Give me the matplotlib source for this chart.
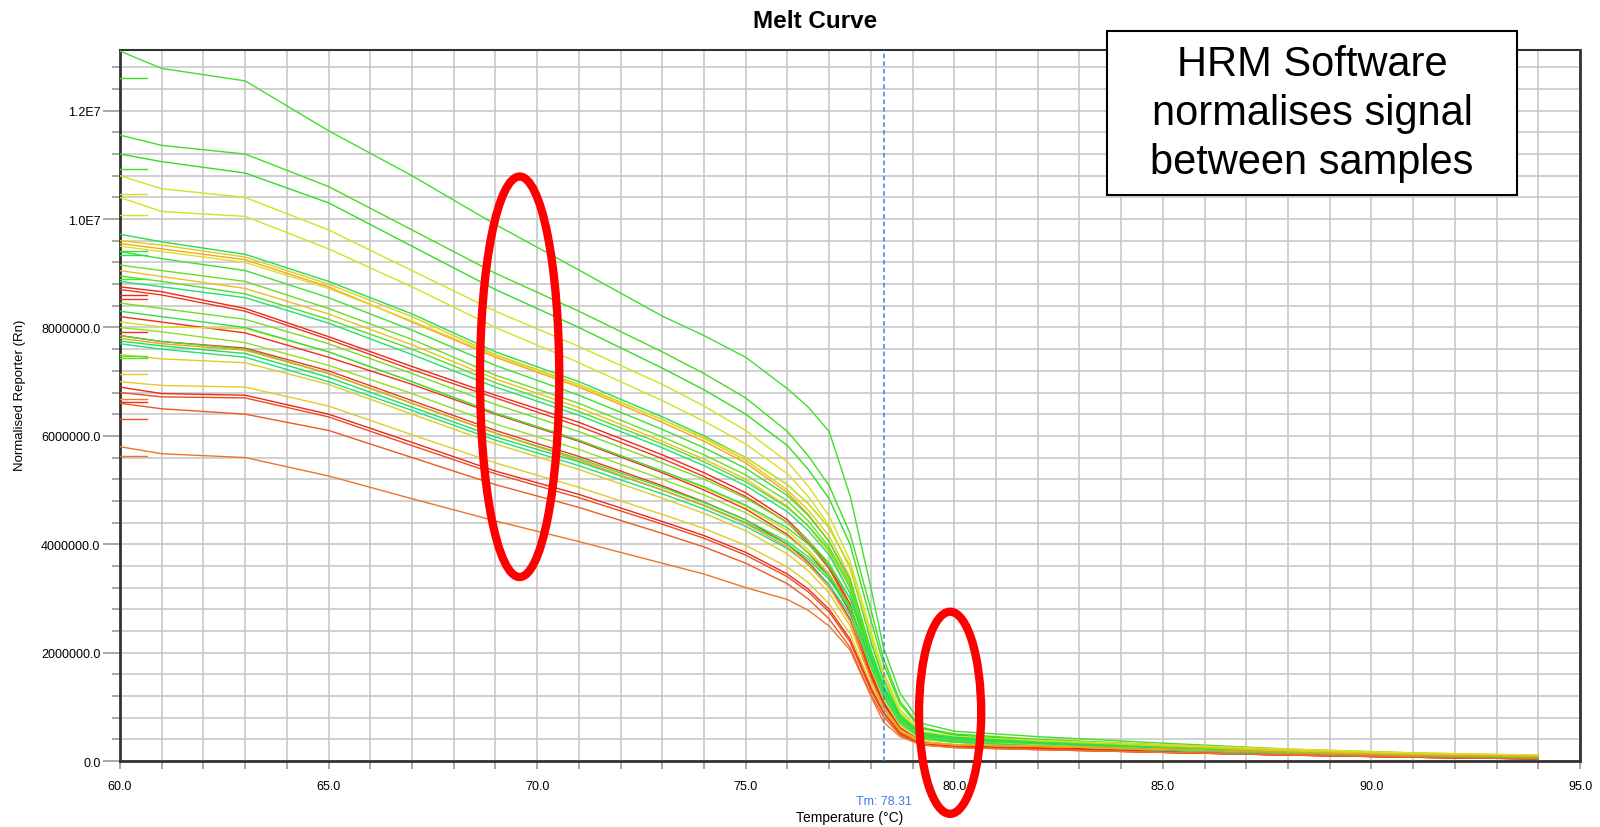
"""Melt curve (HRM) recreation: normalised reporter vs temperature."""
import matplotlib
matplotlib.use("Agg")
import matplotlib.pyplot as plt
from matplotlib.patches import Ellipse, Rectangle
from matplotlib.ticker import MultipleLocator, FuncFormatter

plt.rcParams["font.family"] = ["Liberation Sans", "DejaVu Sans"]

# temperatures (deg C) at which each curve was read
temps = [60, 61, 63, 65, 67, 69, 71, 73, 74, 75, 76, 76.5, 77, 77.5, 78, 78.3, 78.7, 79.2, 80, 82, 85, 88, 91, 94]

# normalised reporter, millions
curve_01 = [13.10, 12.78, 12.55, 11.63, 10.80, 9.90, 9.06, 8.21, 7.85, 7.45, 6.87, 6.53, 6.08, 4.90, 3.20, 2.10, 1.25, 0.70, 0.55, 0.45, 0.33, 0.22, 0.15, 0.10]
curve_02 = [11.55, 11.36, 11.20, 10.60, 9.80, 9.00, 8.30, 7.55, 7.15, 6.70, 6.08, 5.63, 5.08, 4.20, 2.80, 1.90, 1.10, 0.62, 0.50, 0.40, 0.30, 0.20, 0.13, 0.08]
curve_03 = [11.20, 11.06, 10.85, 10.30, 9.50, 8.70, 8.00, 7.25, 6.85, 6.40, 5.82, 5.38, 4.84, 4.00, 2.60, 1.80, 1.05, 0.60, 0.48, 0.38, 0.28, 0.18, 0.12, 0.07]
curve_04 = [10.80, 10.56, 10.40, 9.80, 9.05, 8.30, 7.65, 6.95, 6.55, 6.10, 5.52, 5.07, 4.52, 3.70, 2.40, 1.65, 0.95, 0.55, 0.45, 0.36, 0.27, 0.20, 0.14, 0.10]
curve_05 = [10.40, 10.14, 10.05, 9.45, 8.75, 8.00, 7.35, 6.65, 6.27, 5.85, 5.30, 4.88, 4.35, 3.55, 2.30, 1.55, 0.90, 0.52, 0.42, 0.34, 0.25, 0.18, 0.12, 0.09]
curve_06 = [9.72, 9.58, 9.35, 8.85, 8.25, 7.55, 7.00, 6.35, 6.00, 5.60, 5.10, 4.75, 4.30, 3.60, 2.20, 1.50, 0.85, 0.50, 0.42, 0.33, 0.24, 0.16, 0.10, 0.06]
curve_07 = [9.60, 9.52, 9.30, 8.80, 8.20, 7.50, 6.95, 6.30, 5.95, 5.55, 5.00, 4.63, 4.15, 3.40, 2.00, 1.40, 0.80, 0.48, 0.40, 0.35, 0.28, 0.20, 0.13, 0.10]
curve_08 = [9.55, 9.45, 9.25, 8.75, 8.10, 7.45, 6.90, 6.25, 5.90, 5.50, 4.95, 4.55, 4.05, 3.30, 1.90, 1.30, 0.75, 0.45, 0.38, 0.32, 0.25, 0.18, 0.12, 0.08]
curve_09 = [9.40, 9.27, 9.05, 8.55, 7.95, 7.30, 6.75, 6.12, 5.78, 5.40, 4.90, 4.53, 4.05, 3.35, 2.05, 1.40, 0.80, 0.48, 0.40, 0.32, 0.23, 0.15, 0.10, 0.06]
curve_10 = [9.15, 9.05, 8.85, 8.35, 7.78, 7.12, 6.60, 5.98, 5.65, 5.28, 4.80, 4.43, 3.95, 3.25, 2.00, 1.35, 0.78, 0.46, 0.38, 0.30, 0.22, 0.14, 0.09, 0.05]
curve_11 = [9.05, 8.94, 8.72, 8.25, 7.68, 7.05, 6.52, 5.90, 5.57, 5.20, 4.70, 4.33, 3.85, 3.10, 1.85, 1.25, 0.72, 0.43, 0.36, 0.31, 0.25, 0.18, 0.12, 0.09]
curve_12 = [8.95, 8.85, 8.62, 8.15, 7.60, 6.98, 6.45, 5.85, 5.52, 5.15, 4.68, 4.34, 3.90, 3.20, 1.95, 1.30, 0.75, 0.45, 0.37, 0.30, 0.22, 0.14, 0.09, 0.05]
curve_13 = [8.85, 8.75, 8.55, 8.08, 7.50, 6.90, 6.38, 5.78, 5.45, 5.08, 4.60, 4.25, 3.80, 3.10, 1.90, 1.25, 0.72, 0.42, 0.35, 0.28, 0.20, 0.13, 0.08, 0.05]
curve_14 = [8.75, 8.66, 8.35, 7.83, 7.28, 6.75, 6.25, 5.65, 5.32, 4.95, 4.45, 4.07, 3.60, 2.90, 1.70, 1.10, 0.62, 0.36, 0.30, 0.25, 0.19, 0.13, 0.08, 0.05]
curve_15 = [8.70, 8.60, 8.30, 7.78, 7.22, 6.70, 6.18, 5.58, 5.25, 4.88, 4.40, 4.02, 3.55, 2.85, 1.65, 1.05, 0.60, 0.35, 0.28, 0.23, 0.17, 0.12, 0.07, 0.04]
curve_16 = [8.45, 8.35, 8.15, 7.70, 7.15, 6.58, 6.08, 5.50, 5.20, 4.85, 4.40, 4.07, 3.65, 3.00, 1.85, 1.25, 0.72, 0.42, 0.35, 0.28, 0.20, 0.13, 0.08, 0.05]
curve_17 = [8.20, 8.10, 7.90, 7.45, 6.95, 6.40, 5.90, 5.32, 5.00, 4.65, 4.18, 3.84, 3.40, 2.75, 1.60, 1.05, 0.60, 0.35, 0.28, 0.24, 0.18, 0.12, 0.07, 0.04]
curve_18 = [8.10, 8.01, 7.98, 7.55, 7.00, 6.42, 5.92, 5.35, 5.04, 4.70, 4.25, 3.90, 3.45, 2.80, 1.70, 1.15, 0.66, 0.40, 0.34, 0.30, 0.24, 0.18, 0.13, 0.10]
curve_19 = [8.00, 7.92, 7.72, 7.30, 6.78, 6.22, 5.75, 5.20, 4.91, 4.58, 4.15, 3.85, 3.45, 2.85, 1.80, 1.20, 0.70, 0.42, 0.35, 0.28, 0.20, 0.13, 0.08, 0.05]
curve_20 = [7.85, 7.74, 7.62, 7.20, 6.65, 6.10, 5.62, 5.08, 4.78, 4.45, 4.00, 3.67, 3.25, 2.62, 1.55, 1.00, 0.58, 0.34, 0.27, 0.22, 0.16, 0.11, 0.07, 0.04]
curve_21 = [7.85, 7.74, 7.60, 7.15, 6.60, 6.05, 5.58, 5.05, 4.77, 4.45, 4.05, 3.77, 3.40, 2.85, 1.85, 1.30, 0.78, 0.48, 0.40, 0.32, 0.23, 0.15, 0.09, 0.05]
curve_22 = [7.75, 7.66, 7.52, 7.08, 6.53, 5.98, 5.52, 5.00, 4.72, 4.40, 4.00, 3.72, 3.35, 2.80, 1.90, 1.35, 0.82, 0.50, 0.42, 0.33, 0.24, 0.15, 0.09, 0.05]
curve_23 = [7.70, 7.60, 7.45, 7.00, 6.47, 5.92, 5.45, 4.93, 4.65, 4.33, 3.92, 3.63, 3.25, 2.70, 1.75, 1.20, 0.70, 0.42, 0.35, 0.28, 0.20, 0.13, 0.08, 0.05]
curve_24 = [7.50, 7.42, 7.35, 6.95, 6.40, 5.85, 5.38, 4.85, 4.57, 4.25, 3.82, 3.51, 3.10, 2.50, 1.50, 1.00, 0.58, 0.36, 0.30, 0.27, 0.22, 0.17, 0.12, 0.09]
curve_25 = [7.00, 6.93, 6.90, 6.55, 6.02, 5.50, 5.05, 4.55, 4.29, 3.98, 3.58, 3.29, 2.90, 2.35, 1.40, 0.95, 0.55, 0.34, 0.30, 0.27, 0.22, 0.17, 0.12, 0.09]
curve_26 = [6.90, 6.78, 6.75, 6.40, 5.88, 5.35, 4.92, 4.42, 4.16, 3.85, 3.45, 3.17, 2.80, 2.25, 1.35, 0.90, 0.52, 0.32, 0.26, 0.22, 0.16, 0.11, 0.07, 0.04]
curve_27 = [6.80, 6.72, 6.70, 6.35, 5.82, 5.30, 4.86, 4.37, 4.11, 3.80, 3.40, 3.12, 2.75, 2.20, 1.30, 0.88, 0.50, 0.30, 0.25, 0.21, 0.16, 0.11, 0.07, 0.04]
curve_28 = [6.60, 6.50, 6.40, 6.10, 5.60, 5.10, 4.68, 4.20, 3.95, 3.65, 3.27, 2.99, 2.62, 2.10, 1.22, 0.82, 0.48, 0.30, 0.25, 0.21, 0.16, 0.11, 0.07, 0.04]
curve_29 = [5.80, 5.67, 5.60, 5.26, 4.84, 4.43, 4.05, 3.65, 3.45, 3.20, 2.98, 2.78, 2.49, 2.05, 1.20, 0.72, 0.45, 0.30, 0.25, 0.21, 0.16, 0.12, 0.08, 0.05]
curve_30 = [9.50, 9.40, 9.20, 8.72, 8.12, 7.48, 6.92, 6.30, 5.97, 5.60, 5.10, 4.75, 4.30, 3.60, 2.30, 1.60, 0.90, 0.52, 0.45, 0.38, 0.30, 0.22, 0.15, 0.11]
curve_31 = [8.30, 8.20, 8.00, 7.55, 7.00, 6.42, 5.92, 5.35, 5.06, 4.72, 4.30, 4.00, 3.60, 3.00, 2.00, 1.40, 0.85, 0.52, 0.44, 0.35, 0.25, 0.16, 0.10, 0.06]
curve_32 = [7.80, 7.70, 7.58, 7.15, 6.60, 6.05, 5.55, 5.00, 4.71, 4.38, 3.95, 3.62, 3.20, 2.58, 1.50, 0.98, 0.56, 0.34, 0.30, 0.27, 0.22, 0.16, 0.11, 0.08]

curves = [curve_01, curve_02, curve_03, curve_04, curve_05, curve_06, curve_07, curve_08,
          curve_09, curve_10, curve_11, curve_12, curve_13, curve_14, curve_15, curve_16,
          curve_17, curve_18, curve_19, curve_20, curve_21, curve_22, curve_23, curve_24,
          curve_25, curve_26, curve_27, curve_28, curve_29, curve_30, curve_31, curve_32]
curve_colors = ["#3ee02a", "#44dd22", "#33dd22", "#d4e21e", "#d8e020", "#22e050", "#e6c81e", "#f0a81e",
                "#3ce030", "#66e01e", "#e8c020", "#50e028", "#22e070", "#ee2a18", "#f03820", "#70e020",
                "#ee3018", "#dcdc20", "#90e020", "#e83a1c", "#40e040", "#22dd55", "#22dd80", "#e0cc20",
                "#e6c828", "#ea2a18", "#f04a20", "#ee5a1e", "#f07428", "#dede24", "#33e044", "#f0a020"]

# short pre-read segments at the left edge
stub_temps = [60.0, 60.65]
stub_levels = [12.61, 10.93, 10.47, 10.07, 9.42, 9.33, 8.90, 8.59, 8.53, 7.92, 7.48, 7.44, 7.15, 6.68, 6.63, 6.32, 5.63]
stub_colors = ["#44dd22", "#44dd22", "#d8e020", "#d8e020", "#33dd44", "#22e050", "#50e028", "#ee2a18", "#f03820",
               "#ee3018", "#40e040", "#66e01e", "#e0d020", "#f08020", "#ee2a18", "#f04a20", "#f07428"]

tm = 78.31
# red highlight ellipses: (temp, value in millions, width degC, height millions)
ellipse_1 = (69.58, 7.09, 1.9, 7.39)
ellipse_2 = (79.90, 0.89, 1.49, 3.73)

fig = plt.figure(figsize=(16, 8.28), dpi=100)
ax = fig.add_axes([0.075, 0.0797, 0.9125, 0.8587])

for vals, col in zip(curves, curve_colors):
    ax.plot(temps, [v * 1e6 for v in vals], color=col, lw=1.0, zorder=3)
for lvl, col in zip(stub_levels, stub_colors):
    ax.plot(stub_temps, [lvl * 1e6, lvl * 1e6], color=col, lw=1.0, zorder=3)

ax.axvline(tm, color="#3a7ff0", lw=1.1, ls=(0, (3, 2)), zorder=4)
ax.text(tm, -0.056, f"Tm: {tm:.2f}", transform=ax.get_xaxis_transform(),
        ha="center", va="center", color="#3a7ff0", fontsize=9)

for cx, cy, w, h in (ellipse_1, ellipse_2):
    ax.add_patch(Ellipse((cx, cy * 1e6), w, h * 1e6, fill=False, ec="#ff0000",
                         lw=6, clip_on=False, zorder=6))

ax.set_xlim(60, 95)
ax.set_ylim(0, 1.312e7)
ax.xaxis.set_major_locator(MultipleLocator(5))
ax.xaxis.set_minor_locator(MultipleLocator(1))
ax.yaxis.set_major_locator(MultipleLocator(2e6))
ax.yaxis.set_minor_locator(MultipleLocator(4e5))
ax.xaxis.set_major_formatter(FuncFormatter(lambda v, p: f"{v:.1f}"))
ax.yaxis.set_major_formatter(FuncFormatter(lambda v, p: f"{v / 1e7:.1f}E7" if v >= 1e7 else f"{v:.1f}"))

ax.grid(which="both", color="#c8c8c8", lw=1.2)
ax.set_axisbelow(True)
ax.tick_params(axis="y", which="major", length=12, width=1.2, color="#999999", labelsize=9, pad=2)
ax.tick_params(axis="y", which="minor", length=6, width=1.2, color="#999999")
ax.tick_params(axis="x", which="both", length=6, width=1.2, color="#999999", labelsize=9, pad=8)
for side, lw in (("left", 2), ("bottom", 2), ("right", 2), ("top", 1.5)):
    ax.spines[side].set_linewidth(lw)
    ax.spines[side].set_color("#333333")

fig.text(815 / 1600, 1 - 21 / 828, "Melt Curve", ha="center", va="center",
         fontsize=17.5, fontweight="bold")
fig.text(20 / 1600, 1 - 395 / 828, "Normalised Reporter (Rn)", rotation=90,
         ha="center", va="center", fontsize=9.5)
fig.text(850 / 1600, 1 - 818 / 828, "Temperature (°C)", ha="center", va="center", fontsize=10)

fig.add_artist(Rectangle((1107 / 1600, 1 - 196 / 828), 410 / 1600, 164 / 828,
                         transform=fig.transFigure, fc="white", ec="black", lw=1.5, zorder=5))
fig.text(1312 / 1600, 1 - 114 / 828, "HRM Software\nnormalises signal\nbetween samples",
         ha="center", va="center", fontsize=30, linespacing=1.3, zorder=6)

fig.savefig("out.png", dpi=100)
print("Wrote out.png")
